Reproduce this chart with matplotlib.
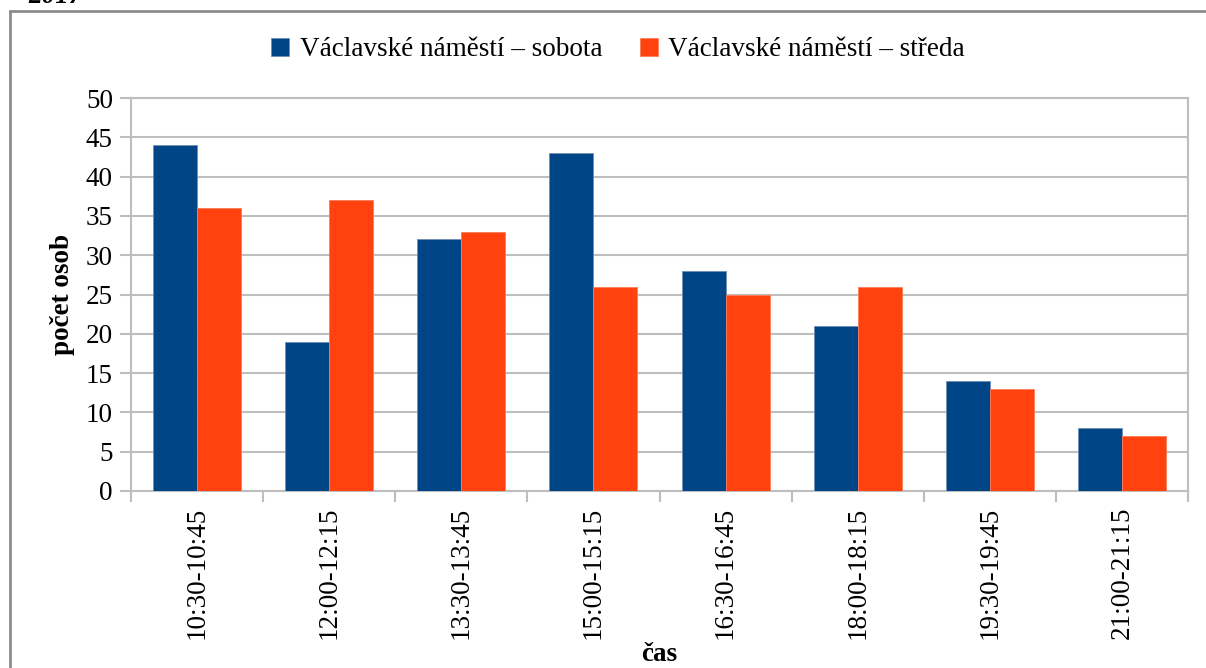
import matplotlib
matplotlib.use("Agg")
import matplotlib.pyplot as plt
import numpy as np
from matplotlib.patches import Rectangle

categories = ["10:30-10:45", "12:00-12:15", "13:30-13:45", "15:00-15:15",
              "16:30-16:45", "18:00-18:15", "19:30-19:45", "21:00-21:15"]
sobota = [44, 19, 32, 43, 28, 21, 14, 8]
streda = [36, 37, 33, 26, 25, 26, 13, 7]
series_names = ["Václavské náměstí – sobota", "Václavské náměstí – středa"]
yticks = [0, 5, 10, 15, 20, 25, 30, 35, 40, 45, 50]

plt.rcParams['font.family'] = ['Liberation Serif', 'DejaVu Serif']

W, H = 1206, 668
FS = 19.5
fig = plt.figure(figsize=(W / 100, H / 100), dpi=100)
ax = fig.add_axes([131 / W, 1 - 491 / H, (1188 - 131) / W, (491 - 98) / H])

grid_c = "#BEBEBE"
x = np.arange(len(categories))
bw = 1 / 3
b1 = ax.bar(x - bw / 2, sobota, bw, color="#004586", edgecolor="#6F8FB5", linewidth=0.6,
            label=series_names[0], zorder=3)
b2 = ax.bar(x + bw / 2, streda, bw, color="#FF420E", edgecolor="#FF7A55", linewidth=0.6,
            label=series_names[1], zorder=3)

ax.set_xlim(-0.5, len(categories) - 0.5)
ax.set_ylim(0, 50)
ax.set_yticks(yticks)
ax.set_yticklabels([str(t) for t in yticks], fontsize=FS)
ax.yaxis.grid(True, color=grid_c, linewidth=1.5, zorder=0)
ax.set_axisbelow(True)

ax.set_xticks(x)
ax.set_xticklabels(categories, rotation=90, fontsize=FS)
ax.set_xticks(np.arange(-0.5, len(categories)), minor=True)
ax.tick_params(axis='x', which='major', length=0, pad=11)
ax.tick_params(axis='x', which='minor', length=8, width=1.5, color=grid_c)
ax.tick_params(axis='y', length=8, width=1.5, color=grid_c, pad=5)

for s in ax.spines.values():
    s.set_color(grid_c)
    s.set_linewidth(1.5)

ax.set_ylabel("počet osob", fontsize=FS, fontweight='bold', labelpad=8)
ax.set_xlabel("čas", fontsize=FS, fontweight='bold', labelpad=2)

fig.legend(handles=[b1, b2], labels=series_names, loc='center', ncol=2,
           bbox_to_anchor=(0.5125, 1 - 50 / H), frameon=False, fontsize=FS,
           handlelength=0.65, handleheight=0.65, columnspacing=1.4, handletextpad=0.4)

fig.patches.append(Rectangle((10 / W, -0.05), (W + 20) / W, 1 - 11 / H + 0.05,
                             transform=fig.transFigure, fill=False,
                             edgecolor="#8C8C8C", linewidth=2, zorder=0))
fig.text(28 / W, 1 - 9 / H, "2017", fontsize=FS, fontweight='bold', style='italic',
         ha='left', va='bottom')

fig.savefig("out.png", dpi=100)
